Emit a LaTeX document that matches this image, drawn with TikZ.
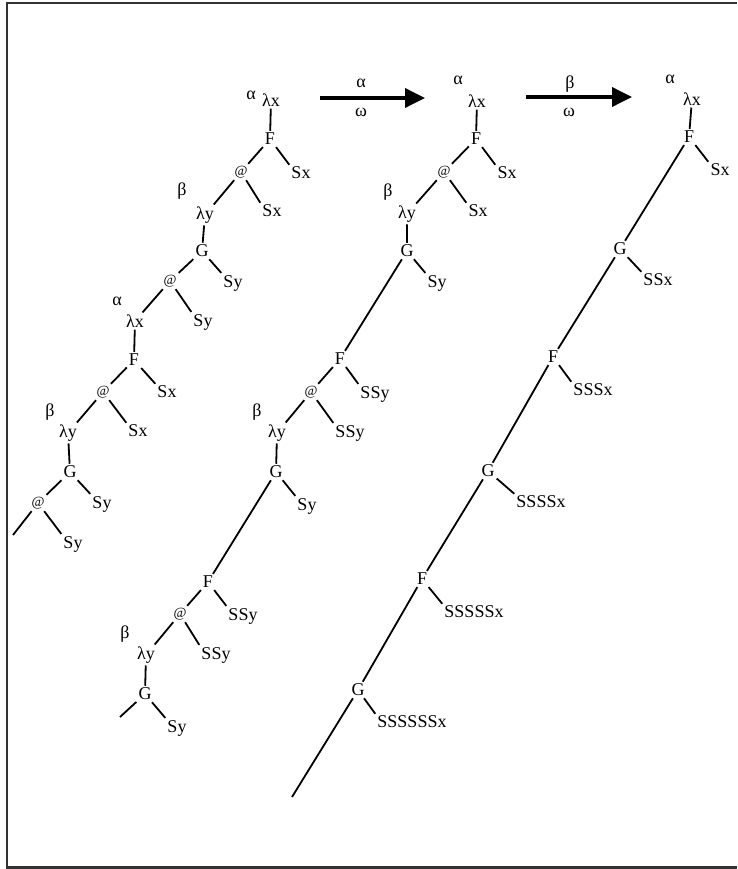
\documentclass[tikz,border=0pt]{standalone}
\usepackage{fontspec}
\setmainfont{Liberation Serif}
\usetikzlibrary{arrows.meta}

\begin{document}
\begin{tikzpicture}[x=1pt,y=-1pt,font=\fontsize{18}{21}\selectfont,lbl/.style={inner sep=2pt},apply/.style={inner sep=2pt,font=\fontsize{14}{16}\selectfont},edge/.style={line width=1.8pt},redarrow/.style={-{Triangle[length=20pt,width=19pt]},line width=3.6pt}]
\useasboundingbox (0,0) rectangle (737,869);
\draw[line width=2.5pt,black!80] (737,3) -- (7,3) -- (7,867.5) -- (737,867.5);
% first term
\node[lbl] (t1al1) at (251,95){α};
\node[lbl] (t1l1) at (271,100){λx};
\node[lbl] (t1f1) at (270,139){F};
\node[apply] (t1a1) at (241,172){@};
\node[lbl] (t1s1) at (301,173){Sx};
\node[lbl] (t1b1) at (182,191){β};
\node[lbl] (t1l2) at (205,215){λy};
\node[lbl] (t1s2) at (272,211){Sx};
\node[lbl] (t1g1) at (202,251){G};
\node[apply] (t1a2) at (170,281){@};
\node[lbl] (t1s3) at (233,283){Sy};
\node[lbl] (t1al2) at (117,301){α};
\node[lbl] (t1l3) at (135,321){λx};
\node[lbl] (t1s4) at (203,322){Sy};
\node[lbl] (t1f2) at (134,360){F};
\node[apply] (t1a3) at (103,392){@};
\node[lbl] (t1s5) at (167,392){Sx};
\node[lbl] (t1b2) at (50,412){β};
\node[lbl] (t1l4) at (68,433){λy};
\node[lbl] (t1s6) at (138,431){Sx};
\node[lbl] (t1g2) at (70,472){G};
\node[apply] (t1a4) at (38,503){@};
\node[lbl] (t1s7) at (102,504){Sy};
\node[lbl] (t1s8) at (73,544){Sy};
\coordinate (t1end) at (13,535);
\draw[edge] (t1l1) -- (t1f1) (t1f1) -- (t1a1) (t1f1) -- (t1s1.north west) (t1a1) -- (t1l2) (t1a1) -- (t1s2.north west) (t1l2) -- (t1g1) (t1g1) -- (t1a2) (t1g1) -- (t1s3.north west) (t1a2) -- (t1l3) (t1a2) -- (t1s4.north west);
\draw[edge] (t1l3) -- (t1f2) (t1f2) -- (t1a3) (t1f2) -- (t1s5.north west) (t1a3) -- (t1l4) (t1a3) -- (t1s6.north west) (t1l4) -- (t1g2) (t1g2) -- (t1a4) (t1g2) -- (t1s7.north west) (t1a4) -- (t1end) (t1a4) -- (t1s8.north west);
% first step
\coordinate (r1s) at (320,98);\coordinate (r1e) at (425,98);
\draw[redarrow] (r1s) -- (r1e);
\node[lbl] (r1top) at (361,83){α};\node[lbl] (r1bot) at (361,112){ω};
% second term
\node[lbl] (t2al1) at (458,80){α};
\node[lbl] (t2l1) at (477,101){λx};
\node[lbl] (t2f1) at (476,139){F};
\node[apply] (t2a1) at (444,172){@};
\node[lbl] (t2s1) at (507,173){Sx};
\node[lbl] (t2b1) at (388,192){β};
\node[lbl] (t2l2) at (407,214){λy};
\node[lbl] (t2s2) at (478,211){Sx};
\node[lbl] (t2g1) at (407,251){G};
\node[lbl] (t2s3) at (437,283){Sy};
\node[lbl] (t2f2) at (340,359){F};
\node[apply] (t2a2) at (311,392){@};
\node[lbl] (t2s4) at (375,394){SSy};
\node[lbl] (t2b2) at (257,412){β};
\node[lbl] (t2l3) at (277,433){λy};
\node[lbl] (t2s5) at (350,433){SSy};
\node[lbl] (t2g2) at (276,472){G};
\node[lbl] (t2s6) at (307,506){Sy};
\node[lbl] (t2f3) at (208,582){F};
\node[apply] (t2a3) at (180,614){@};
\node[lbl] (t2s7) at (243,616){SSy};
\node[lbl] (t2b3) at (125,634){β};
\node[lbl] (t2l4) at (146,655){λy};
\node[lbl] (t2s8) at (216,655){SSy};
\node[lbl] (t2g3) at (145,694){G};
\node[lbl] (t2s9) at (177,728){Sy};
\coordinate (t2end) at (120,717);
\draw[edge] (t2l1) -- (t2f1) (t2f1) -- (t2a1) (t2f1) -- (t2s1.north west) (t2a1) -- (t2l2) (t2a1) -- (t2s2.north west) (t2l2) -- (t2g1) (t2g1) -- (t2f2) (t2g1) -- (t2s3.north west) (t2f2) -- (t2a2) (t2f2) -- (t2s4.north west) (t2a2) -- (t2l3) (t2a2) -- (t2s5.north west);
\draw[edge] (t2l3) -- (t2g2) (t2g2) -- (t2f3) (t2g2) -- (t2s6.north west) (t2f3) -- (t2a3) (t2f3) -- (t2s7.north west) (t2a3) -- (t2l4) (t2a3) -- (t2s8.north west) (t2l4) -- (t2g3) (t2g3) -- (t2end) (t2g3) -- (t2s9.north west);
% second step
\coordinate (r2s) at (526,97);\coordinate (r2e) at (632,97);
\draw[redarrow] (r2s) -- (r2e);
\node[lbl] (r2top) at (570,84){β};\node[lbl] (r2bot) at (569,112){ω};
% third term
\node[lbl] (t3al1) at (670,79){α};
\node[lbl] (t3l1) at (692,99){λx};
\node[lbl] (t3f1) at (689,137){F};
\node[lbl] (t3s1) at (720,170){Sx};
\node[lbl] (t3g1) at (620,249){G};
\node[lbl] (t3s2) at (658,280){SSx};
\node[lbl] (t3f2) at (553,357){F};
\node[lbl] (t3s3) at (593,390){SSSx};
\node[lbl] (t3g2) at (488,471){G};
\node[lbl] (t3s4) at (541,502){SSSSx};
\node[lbl] (t3f3) at (422,579){F};
\node[lbl] (t3s5) at (474,612){SSSSSx};
\node[lbl] (t3g3) at (358,690){G};
\node[lbl] (t3s6) at (412,722){SSSSSSx};
\coordinate (t3end) at (292,797);
\draw[edge] (t3l1) -- (t3f1) (t3f1) -- (t3s1.north west) (t3f1) -- (t3g1) (t3g1) -- (t3s2.north west) (t3g1) -- (t3f2) (t3f2) -- (t3s3.north west) (t3f2) -- (t3g2) (t3g2) -- (t3s4.north west) (t3g2) -- (t3f3) (t3f3) -- (t3s5.north west) (t3f3) -- (t3g3) (t3g3) -- (t3s6.north west) (t3g3) -- (t3end);
\end{tikzpicture}
\end{document}
